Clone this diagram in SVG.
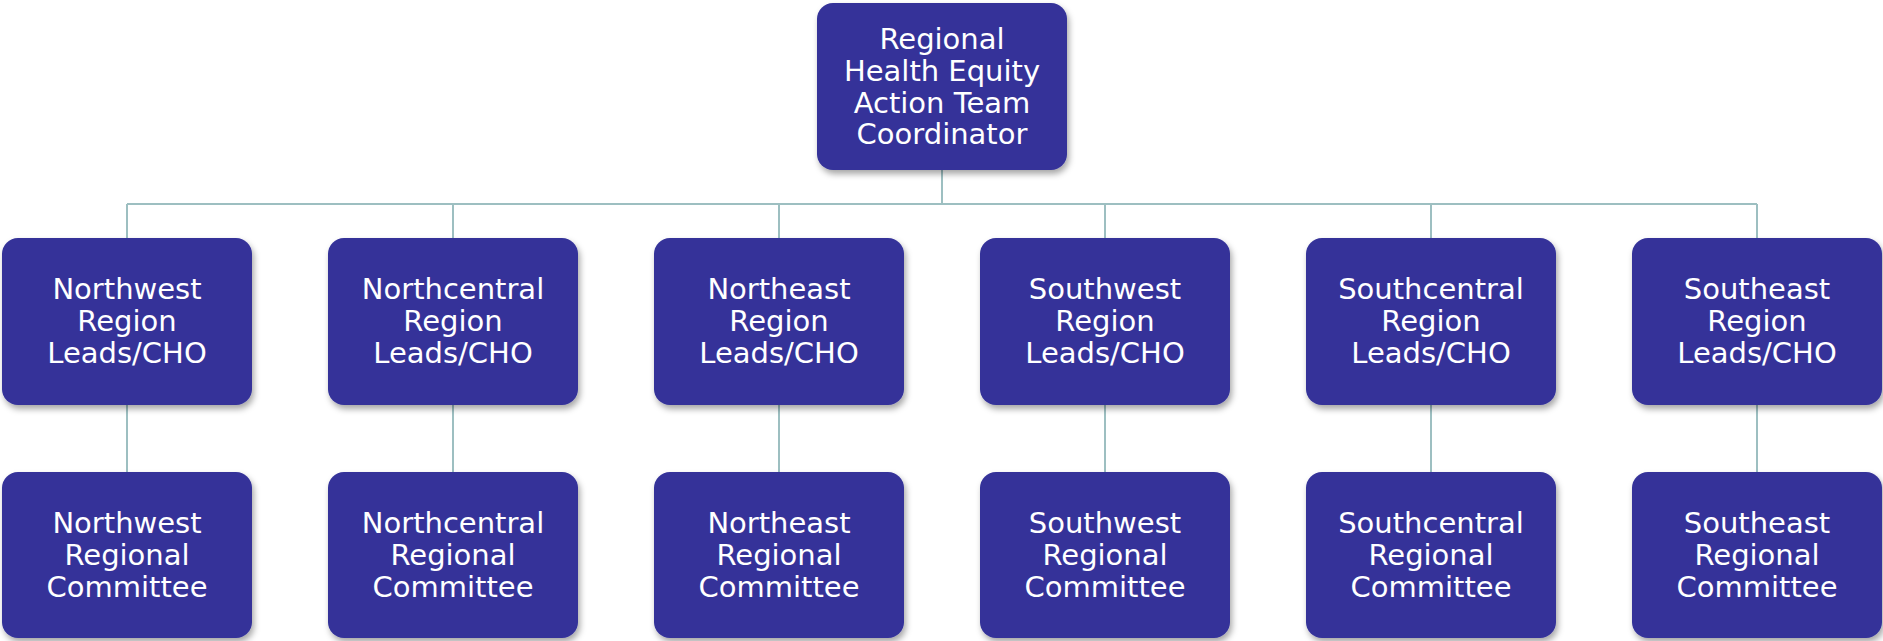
<svg xmlns="http://www.w3.org/2000/svg" width="1883" height="641" viewBox="0 0 1883 641">
<style>
.box{fill:#343399;filter:url(#sh)}
.t{fill:#ffffff;font-family:"DejaVu Sans","Liberation Sans",sans-serif;font-size:29px;text-anchor:middle}
.c{stroke:#9dbfc1;stroke-width:2;fill:none}
</style>
<defs>
<filter id="sh" x="-10%" y="-10%" width="125%" height="130%">
<feDropShadow dx="2" dy="4" stdDeviation="3" flood-color="#000" flood-opacity="0.35"/>
</filter>
</defs>
<rect width="1883" height="641" fill="#ffffff"/>
<g id="connectors">
<path class="c" d="M942 170V204M127 204H1757M127 204V238M453 204V238M779 204V238M1105 204V238M1431 204V238M1757 204V238"/>
<path class="c" d="M127 405V472M453 405V472M779 405V472M1105 405V472M1431 405V472M1757 405V472"/>
</g>
<g id="top">
<rect class="box" x="817" y="3" width="250" height="167" rx="16"/>
<text class="t" x="942" y="49">Regional</text>
<text class="t" x="942" y="81">Health Equity</text>
<text class="t" x="942" y="113">Action Team</text>
<text class="t" x="942" y="144">Coordinator</text>
</g>
<g id="nw-lead">
<rect class="box" x="2" y="238" width="250" height="167" rx="16"/>
<text class="t" x="127" y="299">Northwest</text><text class="t" x="127" y="331">Region</text><text class="t" x="127" y="363">Leads/CHO</text>
</g>
<g id="nc-lead">
<rect class="box" x="328" y="238" width="250" height="167" rx="16"/>
<text class="t" x="453" y="299">Northcentral</text><text class="t" x="453" y="331">Region</text><text class="t" x="453" y="363">Leads/CHO</text>
</g>
<g id="ne-lead">
<rect class="box" x="654" y="238" width="250" height="167" rx="16"/>
<text class="t" x="779" y="299">Northeast</text><text class="t" x="779" y="331">Region</text><text class="t" x="779" y="363">Leads/CHO</text>
</g>
<g id="sw-lead">
<rect class="box" x="980" y="238" width="250" height="167" rx="16"/>
<text class="t" x="1105" y="299">Southwest</text><text class="t" x="1105" y="331">Region</text><text class="t" x="1105" y="363">Leads/CHO</text>
</g>
<g id="sc-lead">
<rect class="box" x="1306" y="238" width="250" height="167" rx="16"/>
<text class="t" x="1431" y="299">Southcentral</text><text class="t" x="1431" y="331">Region</text><text class="t" x="1431" y="363">Leads/CHO</text>
</g>
<g id="se-lead">
<rect class="box" x="1632" y="238" width="250" height="167" rx="16"/>
<text class="t" x="1757" y="299">Southeast</text><text class="t" x="1757" y="331">Region</text><text class="t" x="1757" y="363">Leads/CHO</text>
</g>
<g id="nw-comm">
<rect class="box" x="2" y="472" width="250" height="166" rx="16"/>
<text class="t" x="127" y="533">Northwest</text><text class="t" x="127" y="565">Regional</text><text class="t" x="127" y="597">Committee</text>
</g>
<g id="nc-comm">
<rect class="box" x="328" y="472" width="250" height="166" rx="16"/>
<text class="t" x="453" y="533">Northcentral</text><text class="t" x="453" y="565">Regional</text><text class="t" x="453" y="597">Committee</text>
</g>
<g id="ne-comm">
<rect class="box" x="654" y="472" width="250" height="166" rx="16"/>
<text class="t" x="779" y="533">Northeast</text><text class="t" x="779" y="565">Regional</text><text class="t" x="779" y="597">Committee</text>
</g>
<g id="sw-comm">
<rect class="box" x="980" y="472" width="250" height="166" rx="16"/>
<text class="t" x="1105" y="533">Southwest</text><text class="t" x="1105" y="565">Regional</text><text class="t" x="1105" y="597">Committee</text>
</g>
<g id="sc-comm">
<rect class="box" x="1306" y="472" width="250" height="166" rx="16"/>
<text class="t" x="1431" y="533">Southcentral</text><text class="t" x="1431" y="565">Regional</text><text class="t" x="1431" y="597">Committee</text>
</g>
<g id="se-comm">
<rect class="box" x="1632" y="472" width="250" height="166" rx="16"/>
<text class="t" x="1757" y="533">Southeast</text><text class="t" x="1757" y="565">Regional</text><text class="t" x="1757" y="597">Committee</text>
</g>
</svg>
